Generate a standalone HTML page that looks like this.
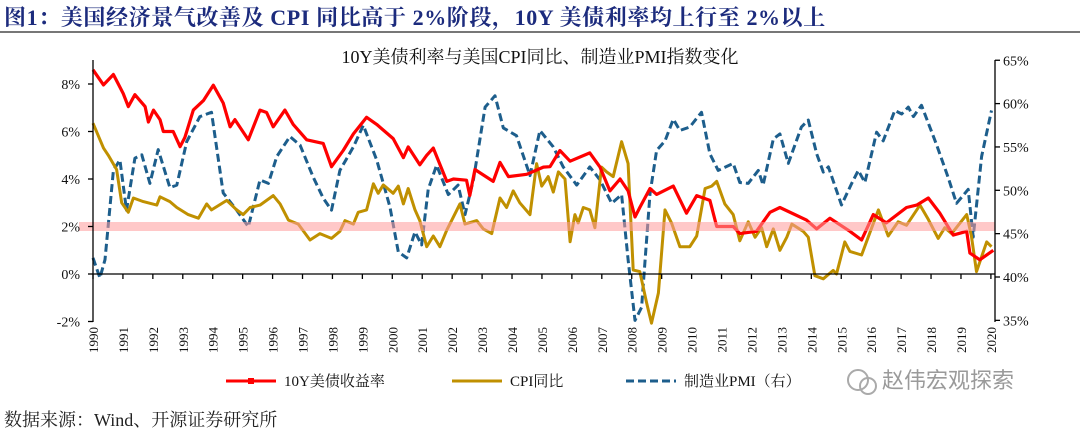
<!DOCTYPE html>
<html><head><meta charset="utf-8">
<style>
body{margin:0;background:#fff;width:1080px;height:433px;overflow:hidden;font-family:"Liberation Serif","Noto Serif CJK SC",serif;}
#title{position:absolute;left:4px;top:1px;font-size:22px;letter-spacing:0.6px;font-weight:bold;color:#1c2b7d;white-space:nowrap;font-family:"Liberation Serif","Noto Serif CJK SC",serif;}
#rule{position:absolute;left:0;top:31px;width:1080px;height:2px;background:#777;}
#src{position:absolute;left:4px;top:406px;font-size:18px;color:#222;font-family:"Liberation Serif","Noto Serif CJK SC",serif;}
svg{position:absolute;left:0;top:0;}
</style></head><body>
<div id="title">图1：美国经济景气改善及 CPI 同比高于 2%阶段，10Y 美债利率均上行至 2%以上</div>
<div id="rule"></div>
<svg id="chart" width="1080" height="433"></svg>
<div id="src">数据来源：Wind、开源证券研究所</div>
<script>
const yieldYears=[1990.00,1990.35,1990.68,1991.01,1991.18,1991.40,1991.74,1991.85,1992.02,1992.24,1992.35,1992.68,1992.91,1993.07,1993.35,1993.69,1994.02,1994.35,1994.58,1994.74,1995.19,1995.58,1995.80,1996.02,1996.41,1996.69,1997.14,1997.69,1997.97,1998.36,1998.70,1999.14,1999.48,2000.03,2000.37,2000.53,2000.92,2001.15,2001.37,2001.82,2002.04,2002.48,2002.59,2002.76,2003.37,2003.60,2003.88,2004.49,2005.05,2005.27,2005.60,2005.94,2006.60,2006.94,2007.27,2007.61,2007.88,2008.11,2008.27,2008.61,2008.83,2009.39,2009.83,2010.17,2010.61,2010.84,2011.39,2011.61,2012.17,2012.62,2012.95,2013.84,2014.18,2014.62,2015.29,2015.68,2016.07,2016.51,2017.18,2017.52,2017.91,2018.30,2018.74,2019.19,2019.30,2019.63,2020.08];
const yieldVals=[8.6,7.96,8.4,7.6,7.05,7.55,7.05,6.4,6.9,6.5,6.0,6.0,5.36,5.75,6.9,7.3,7.95,7.2,6.2,6.5,5.65,6.9,6.8,6.2,6.9,6.3,5.65,5.5,4.52,5.2,5.9,6.6,6.3,5.7,4.9,5.35,4.6,5.0,5.3,3.9,4.0,3.95,3.3,4.4,3.9,4.7,4.1,4.2,4.5,4.52,5.2,4.75,5.1,4.5,3.5,4.0,3.5,2.4,2.8,3.6,3.35,3.7,2.56,3.3,3.1,2.0,2.0,1.7,1.8,2.6,2.8,2.27,1.9,2.35,1.8,1.43,2.5,2.15,2.8,2.9,3.2,2.55,1.64,1.8,0.88,0.6,1.0];
const cpiYears=[1990.00,1990.35,1990.51,1990.79,1990.96,1991.18,1991.35,1991.68,1992.13,1992.24,1992.57,1992.80,1993.18,1993.52,1993.80,1993.96,1994.47,1994.80,1995.02,1995.25,1995.58,1996.02,1996.25,1996.53,1996.86,1997.25,1997.58,1997.97,1998.25,1998.42,1998.70,1998.86,1999.14,1999.37,1999.53,1999.70,2000.03,2000.20,2000.37,2000.53,2000.76,2000.92,2001.15,2001.37,2001.59,2001.82,2001.98,2002.26,2002.43,2002.82,2003.04,2003.32,2003.60,2003.82,2004.04,2004.26,2004.60,2004.82,2004.99,2005.21,2005.38,2005.55,2005.77,2005.94,2006.10,2006.21,2006.38,2006.60,2006.77,2006.99,2007.16,2007.38,2007.66,2007.88,2008.05,2008.27,2008.50,2008.66,2008.89,2009.11,2009.33,2009.61,2009.94,2010.17,2010.45,2010.67,2010.84,2011.11,2011.39,2011.61,2011.89,2012.12,2012.34,2012.51,2012.73,2012.95,2013.18,2013.35,2013.73,2013.90,2014.12,2014.40,2014.73,2014.84,2015.12,2015.29,2015.68,2015.90,2016.24,2016.57,2016.90,2017.18,2017.63,2017.91,2018.24,2018.46,2018.69,2019.19,2019.35,2019.52,2019.86,2020.02];
const cpiVals=[6.35,5.3,5.0,4.4,3.0,2.6,3.2,3.05,2.9,3.25,3.05,2.8,2.5,2.35,2.95,2.7,3.1,2.7,2.5,2.8,2.9,3.3,2.95,2.27,2.1,1.43,1.7,1.5,1.8,2.25,2.1,2.6,2.7,3.8,3.4,3.75,3.4,3.7,2.95,3.6,2.7,2.25,1.15,1.6,1.15,1.85,2.25,2.95,2.1,2.25,1.9,1.7,3.2,2.8,3.5,3.0,2.5,4.65,3.7,4.1,3.45,4.3,4.0,1.36,2.5,2.15,2.8,2.7,1.95,4.5,4.3,4.1,5.57,4.65,0.17,0.1,-1.23,-2.07,-0.8,2.7,2.15,1.15,1.15,1.6,3.6,3.7,3.9,2.95,2.5,1.4,2.2,1.55,1.95,1.15,1.9,1.0,1.55,2.1,1.8,1.55,-0.07,-0.2,0.15,0.0,1.35,0.95,0.8,1.55,2.7,1.6,2.2,2.05,2.9,2.3,1.5,1.95,1.7,2.5,1.6,0.1,1.35,1.15];
const pmiYears=[1990.00,1990.23,1990.40,1990.68,1990.90,1991.12,1991.40,1991.63,1991.90,1992.18,1992.57,1992.80,1993.13,1993.57,1993.96,1994.35,1994.80,1995.19,1995.58,1995.86,1996.14,1996.58,1996.92,1997.36,1997.69,1997.97,1998.25,1998.70,1999.03,1999.48,1999.92,2000.20,2000.48,2000.76,2000.98,2001.20,2001.48,2001.87,2002.20,2002.43,2002.71,2003.10,2003.43,2003.71,2004.15,2004.60,2004.93,2005.38,2005.71,2006.16,2006.60,2006.94,2007.33,2007.66,2007.88,2008.11,2008.33,2008.61,2008.83,2009.11,2009.39,2009.61,2009.94,2010.33,2010.61,2010.89,2011.39,2011.61,2011.89,2012.23,2012.39,2012.73,2012.95,2013.23,2013.67,2013.90,2014.18,2014.40,2014.57,2015.01,2015.35,2015.57,2015.79,2016.18,2016.40,2016.79,2017.02,2017.24,2017.41,2017.68,2018.18,2018.57,2018.85,2019.24,2019.41,2019.69,2020.02];
const pmiVals=[42.2,39.9,42,52.3,53.5,47.7,53.7,54.1,50.8,54.7,50.3,50.6,55.6,58.5,59,49.7,47.7,45.8,51.2,50.8,53.9,56.2,55.2,51.5,49.1,47.7,52.3,55,57.5,53.5,48.1,42.9,42.2,45.2,43.7,50.1,52.9,49.5,50.6,47.2,51.2,59.6,60.9,57.2,56.3,51.7,56.9,55,52.7,50.6,52.7,51.2,48.5,49.5,42,35,36.5,49.6,54.6,55.7,58.2,56.9,57.3,59,54.2,52.3,53.1,50.9,50.8,52.3,50.6,55.9,56.5,53.1,57.3,58.1,54.2,52.1,52.7,48.3,50.8,52.3,50.9,56.7,55.7,59.2,58.8,59.6,58.5,59.8,55.3,51.5,48.5,50.1,44.6,53.9,59.2];
const leftTicks=[-2,0,2,4,6,8];
const rightTicks=[35,40,45,50,55,60,65];
const yearTicks=[1990,1991,1992,1993,1994,1995,1996,1997,1998,1999,2000,2001,2002,2003,2004,2005,2006,2007,2008,2009,2010,2011,2012,2013,2014,2015,2016,2017,2018,2019,2020];

const NS='http://www.w3.org/2000/svg';
const svg=document.getElementById('chart');
const X=t=>93+(t-1990)*29.93;
const YL=v=>274-v*23.75;
const YR=v=>277-(v-40)*8.67;
function mk(tag,attrs,parent){const e=document.createElementNS(NS,tag);for(const k in attrs)e.setAttribute(k,attrs[k]);(parent||svg).appendChild(e);return e;}
function txt(s,attrs){const e=mk('text',attrs);e.textContent=s;return e;}

let t=txt('10Y美债利率与美国CPI同比、制造业PMI指数变化',{x:540,y:63,'text-anchor':'middle','font-size':18,'font-family':'"Liberation Serif","Noto Serif CJK SC",serif',fill:'#111'});



function line(xs,ys,sx,sy,attrs,name){
  const d=xs.map((x,i)=>(i?'L':'M')+sx(x).toFixed(1)+','+sy(ys[i]).toFixed(1)).join('');
  const p=mk('path',Object.assign({d:d,fill:'none','stroke-linejoin':'round'},attrs));
  
  
  return p;
}
line(pmiYears,pmiVals,X,YR,{stroke:'#1d5e8c','stroke-width':3,'stroke-dasharray':'8,4'},'pmi-line');
line(cpiYears,cpiVals,X,YL,{stroke:'#c09000','stroke-width':3},'cpi-line');
line(yieldYears,yieldVals,X,YL,{stroke:'#ff0000','stroke-width':3.2},'yield-10y-line');

let band=mk('rect',{x:79,y:YL(2)-4.5,width:916,height:9,fill:'#ff9a9a',opacity:0.55});



let ax=mk('line',{x1:93,y1:60,x2:93,y2:322,stroke:'#000','stroke-width':1.3});


let ar=mk('line',{x1:995,y1:60,x2:995,y2:322,stroke:'#000','stroke-width':1.3});


let axx=mk('line',{x1:93,y1:274,x2:995,y2:274,stroke:'#000','stroke-width':1.3});


leftTicks.forEach(v=>{
  mk('line',{x1:88,y1:YL(v),x2:93,y2:YL(v),stroke:'#000','stroke-width':1.3});
  const l=txt(v+'%',{x:80,y:YL(v)+5,'text-anchor':'end','font-size':14,fill:'#111'});
  
  
});
rightTicks.forEach(v=>{
  mk('line',{x1:995,y1:YR(v),x2:1000,y2:YR(v),stroke:'#000','stroke-width':1.3});
  const l=txt(v+'%',{x:1003,y:YR(v)+5,'font-size':14,fill:'#111'});
  
  
});
yearTicks.forEach(y=>{
  const x=X(y);
  mk('line',{x1:x,y1:274,x2:x,y2:279,stroke:'#000','stroke-width':1.3});
  const l=txt(String(y),{x:0,y:0,'font-size':13,fill:'#111','text-anchor':'end',transform:'translate('+(x+5)+',327) rotate(-90)'});
  
  
});

function leg(x,color,dash,label,name,marker){
  const g=mk('g',{});
  
  
  const a={x1:x,y1:381,x2:x+50,y2:381,stroke:color,'stroke-width':3};
  if(dash)a['stroke-dasharray']='8,4';
  mk('line',a,g);
  if(marker)mk('rect',{x:x+22,y:378,width:6,height:6,fill:color},g);
  const e=mk('text',{x:x+58,y:386,'font-size':15,fill:'#111','font-family':'"Liberation Serif","Noto Serif CJK SC",serif'},g);
  e.textContent=label;
}
leg(226,'#ff0000',false,'10Y美债收益率','legend-yield',true);
leg(452,'#c09000',false,'CPI同比','legend-cpi',false);
leg(626,'#1d5e8c',true,'制造业PMI（右）','legend-pmi',false);

const wm=mk('g',{});


mk('circle',{cx:858,cy:380,r:10,fill:'none',stroke:'#aaa','stroke-width':2},wm);
mk('circle',{cx:868,cy:386,r:8,fill:'none',stroke:'#aaa','stroke-width':2},wm);
const wt=mk('text',{x:882,y:388,'font-size':22,fill:'#9a9a9a','font-family':'"Liberation Sans","Noto Sans CJK SC",sans-serif'},wm);
wt.textContent='赵伟宏观探索';
</script>
</body></html>
